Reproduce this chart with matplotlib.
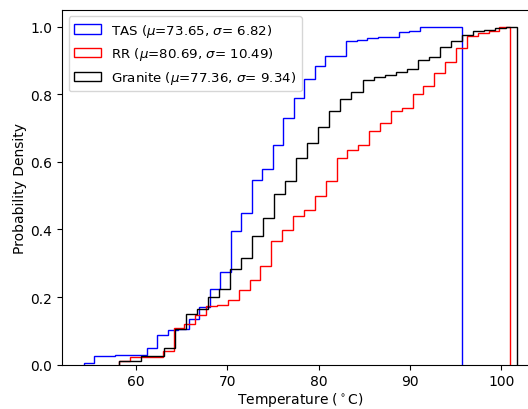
import numpy as np
import matplotlib
matplotlib.use("Agg")
import matplotlib.pyplot as plt

# Cumulative fraction of samples per temperature bin (36 bins per source)
n_bins = 36

tas_range = (54.28, 95.67)
tas_cum = [0.005, 0.025, 0.027, 0.028, 0.028, 0.030, 0.049, 0.087, 0.102,
           0.107, 0.136, 0.171, 0.225, 0.273, 0.396, 0.449, 0.547, 0.578,
           0.651, 0.731, 0.790, 0.844, 0.884, 0.913, 0.913, 0.956, 0.960,
           0.965, 0.969, 0.970, 0.985, 0.986, 0.998, 0.998, 0.998, 1.000]

rr_range = (58.18, 100.96)
rr_cum = [0.011, 0.023, 0.023, 0.024, 0.041, 0.109, 0.120, 0.146, 0.175,
          0.178, 0.191, 0.222, 0.251, 0.293, 0.365, 0.397, 0.439, 0.459,
          0.498, 0.543, 0.610, 0.634, 0.649, 0.691, 0.716, 0.750, 0.758,
          0.800, 0.824, 0.862, 0.896, 0.936, 0.971, 0.981, 0.987, 1.000]

granite_range = (58.18, 101.73)
granite_cum = [0.011, 0.011, 0.025, 0.027, 0.049, 0.106, 0.150, 0.165, 0.200,
               0.224, 0.284, 0.315, 0.382, 0.434, 0.504, 0.544, 0.610, 0.657,
               0.703, 0.750, 0.787, 0.806, 0.842, 0.850, 0.857, 0.866, 0.875,
               0.901, 0.911, 0.941, 0.958, 0.975, 0.986, 0.991, 0.996, 1.000]

labels = [r"TAS ($\mu$=73.65, $\sigma$= 6.82)",
          r"RR ($\mu$=80.69, $\sigma$= 10.49)",
          r"Granite ($\mu$=77.36, $\sigma$= 9.34)"]
colors = ["blue", "red", "black"]

fig = plt.figure(figsize=(5.28, 4.10), dpi=100)
ax = fig.add_axes([0.1174, 0.108, 0.9034, 0.8659])

for rng, cum, lab, col in zip([tas_range, rr_range, granite_range],
                              [tas_cum, rr_cum, granite_cum],
                              labels, colors):
    edges = np.histogram_bin_edges([], bins=n_bins, range=rng)
    centers = 0.5 * (edges[:-1] + edges[1:])
    counts = np.diff(np.asarray(cum), prepend=0.0)
    ax.hist(centers, bins=edges, weights=counts, cumulative=True,
            density=True, histtype="step", color=col, label=lab,
            linewidth=1.0)

ax.set_xlabel(r"Temperature ($^\circ$C)", labelpad=1)
ax.set_ylabel("Probability Density", labelpad=2)
ax.set_xticks([60, 70, 80, 90, 100])
ax.set_yticks([0.0, 0.2, 0.4, 0.6, 0.8, 1.0])
ax.legend(loc="upper left", fontsize=9.6)

fig.savefig("out.png", dpi=100)
